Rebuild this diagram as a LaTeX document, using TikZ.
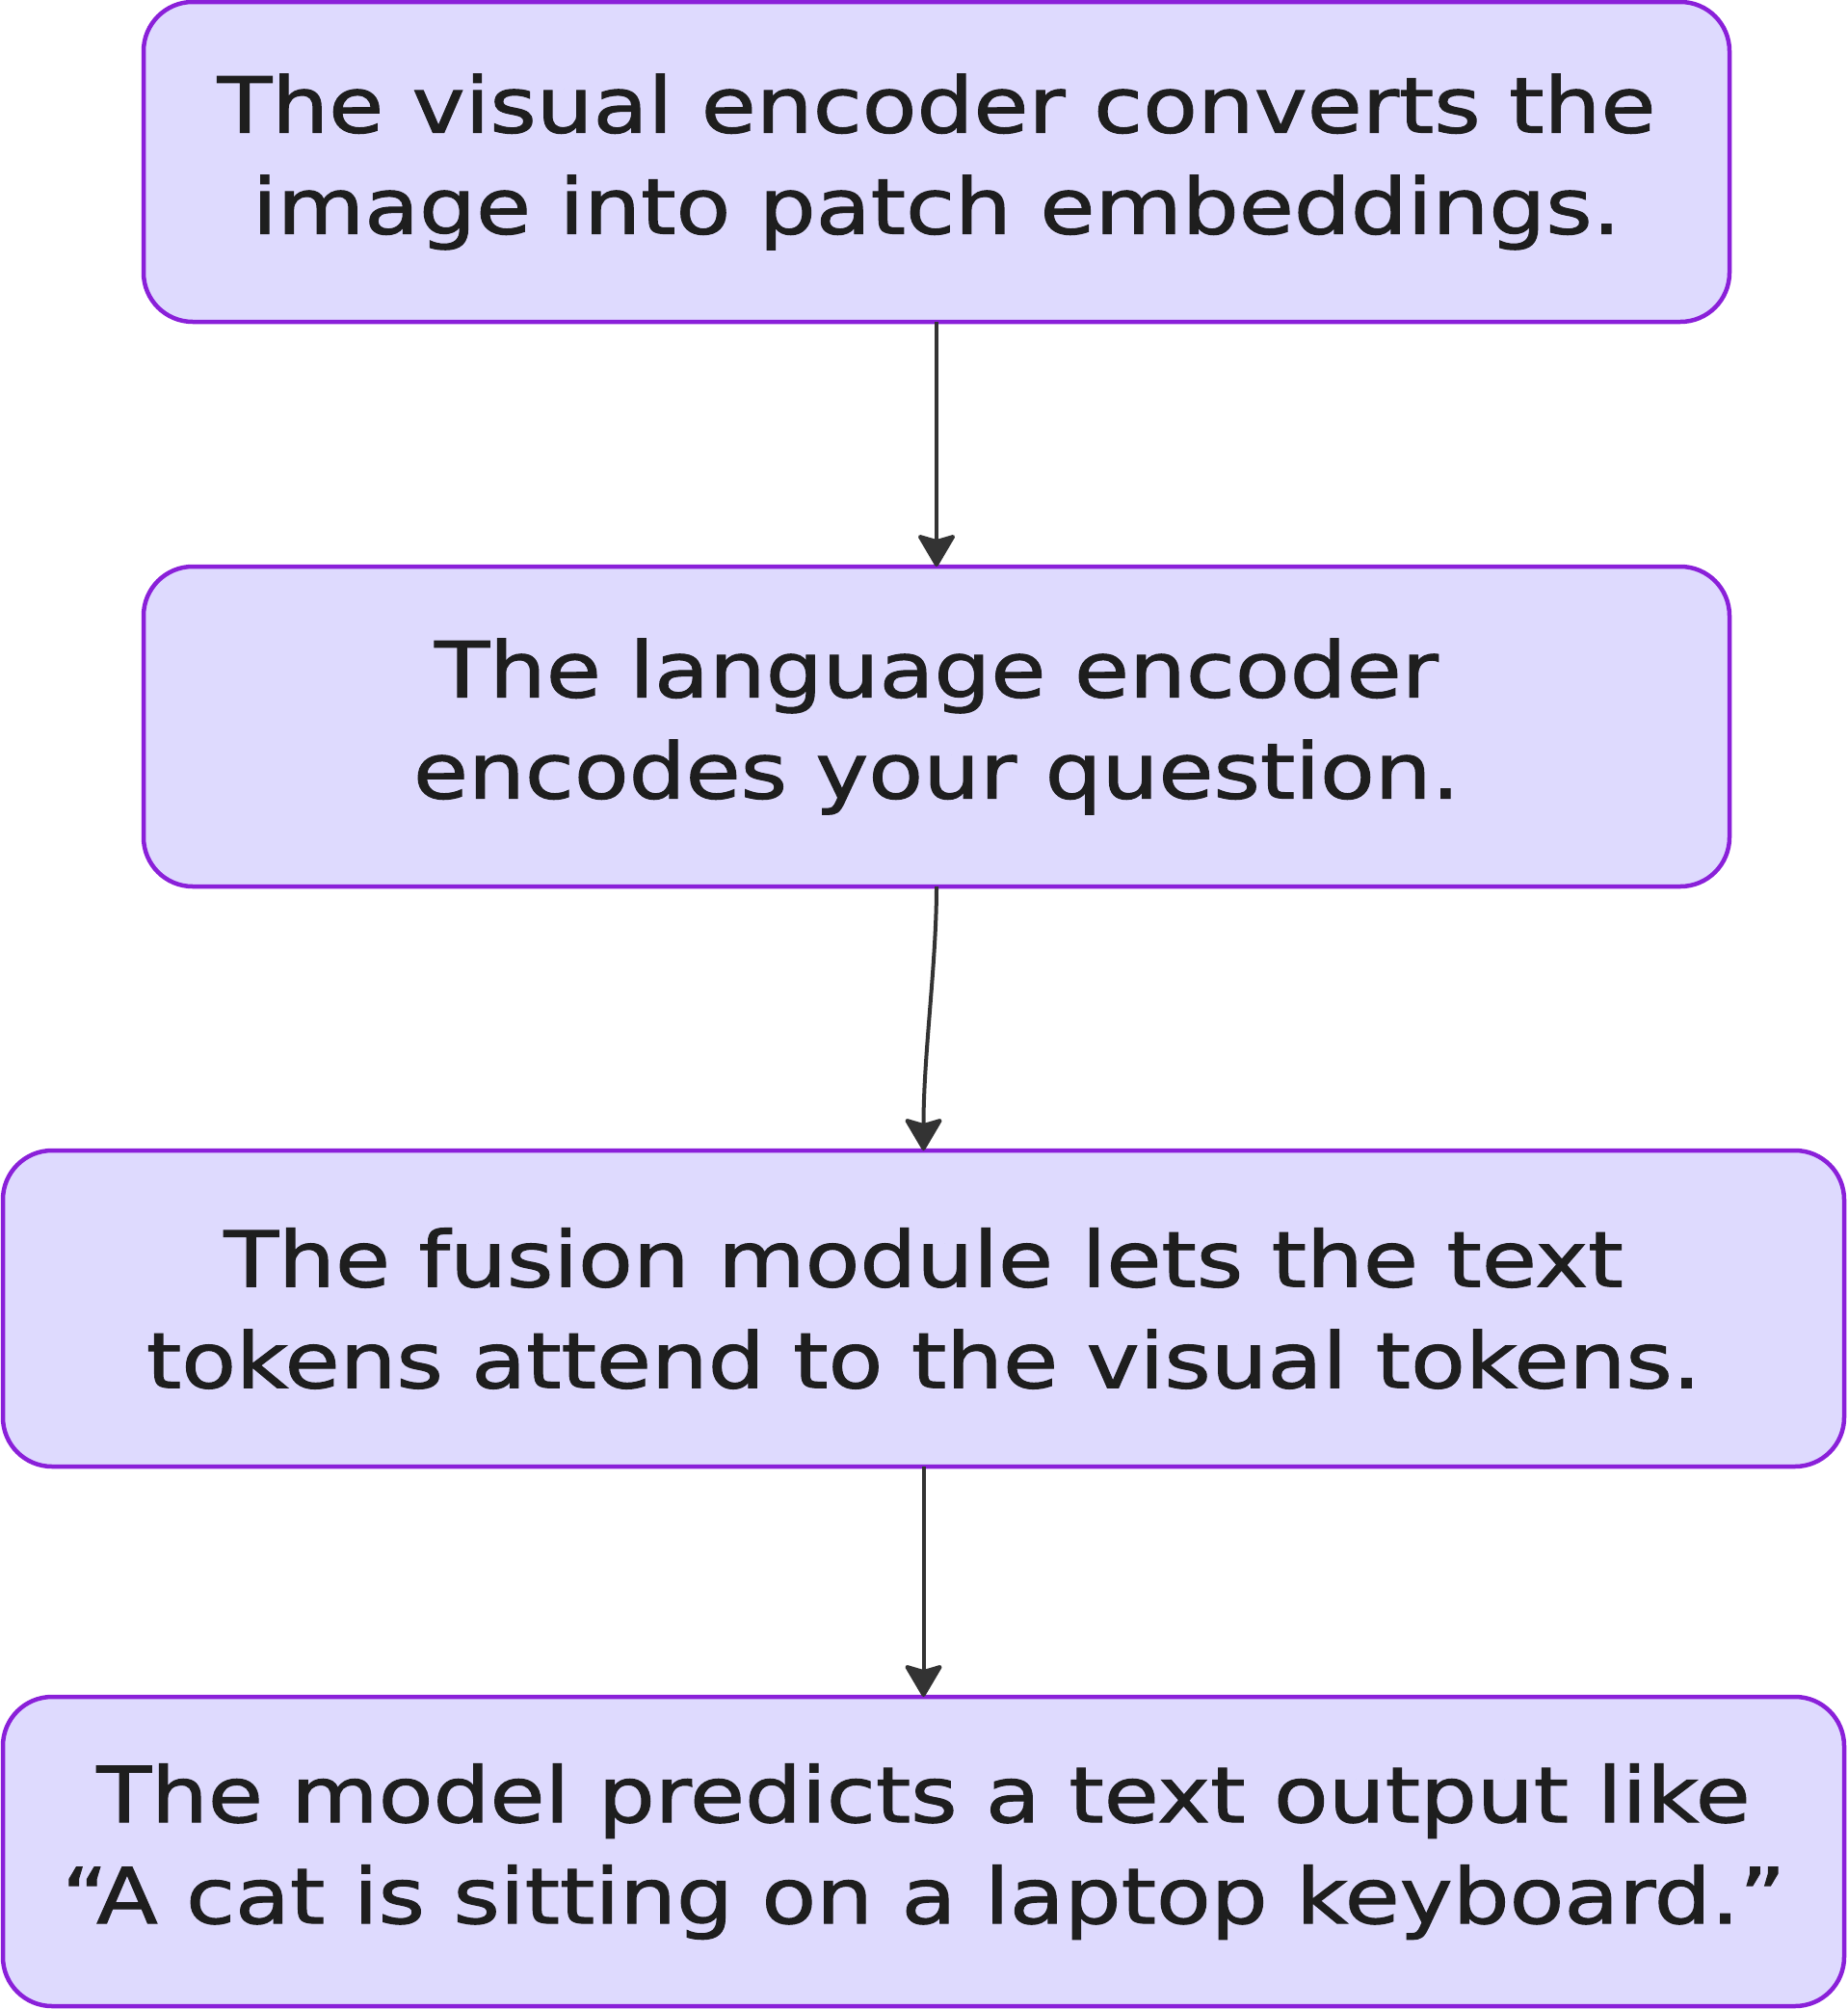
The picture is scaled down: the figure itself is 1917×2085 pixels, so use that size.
\documentclass[tikz,border=0pt]{standalone}
\usepackage{fontspec}
\setmainfont{DejaVu Sans}[FakeStretch=1.16, FakeBold=1.4]
\usetikzlibrary{positioning,arrows.meta}
\definecolor{boxfill}{HTML}{DEDAFE}
\definecolor{boxline}{HTML}{8A20D9}
\definecolor{flowline}{HTML}{333333}
\definecolor{inkblack}{HTML}{1E1E1E}
\tikzset{
  stage/.style={draw=boxline, fill=boxfill, line width=4.5pt, rounded corners=51pt,
    outer sep=0pt, inner sep=0pt, align=center, text=inkblack,
    font=\fontsize{80}{105}\selectfont},
  flow/.style={draw=flowline, line width=4pt,
    -{Stealth[length=36pt,width=42pt,inset=6pt,round]}},
}

\begin{document}
\begin{tikzpicture}[x=1pt,y=-1pt]
\useasboundingbox (0,0) rectangle (1917,2085);

% Stages
\node[stage, minimum width=1646pt, minimum height=332pt] (visual) at (972,168)
  {The visual encoder converts the\\image into patch embeddings.};
\node[stage, minimum width=1646pt, minimum height=332pt, below=254pt of visual] (language)
  {The language encoder\\encodes your question.};
\node[stage, minimum width=1911pt, minimum height=328pt, below=274pt of language, xshift=-13.5pt] (fusion)
  {The fusion module lets the text\\tokens attend to the visual tokens.};
\node[stage, minimum width=1911pt, minimum height=321pt, below=239pt of fusion] (predict)
  {The model predicts a text output like\\“A cat is sitting on a laptop keyboard.”};

% Flow
\draw[flow] (visual) -- (language);
\draw[flow] (language.south) .. controls +(0,80) and +(0,-100) .. (fusion.north);
\draw[flow] (fusion) -- (predict);

\end{tikzpicture}
\end{document}
